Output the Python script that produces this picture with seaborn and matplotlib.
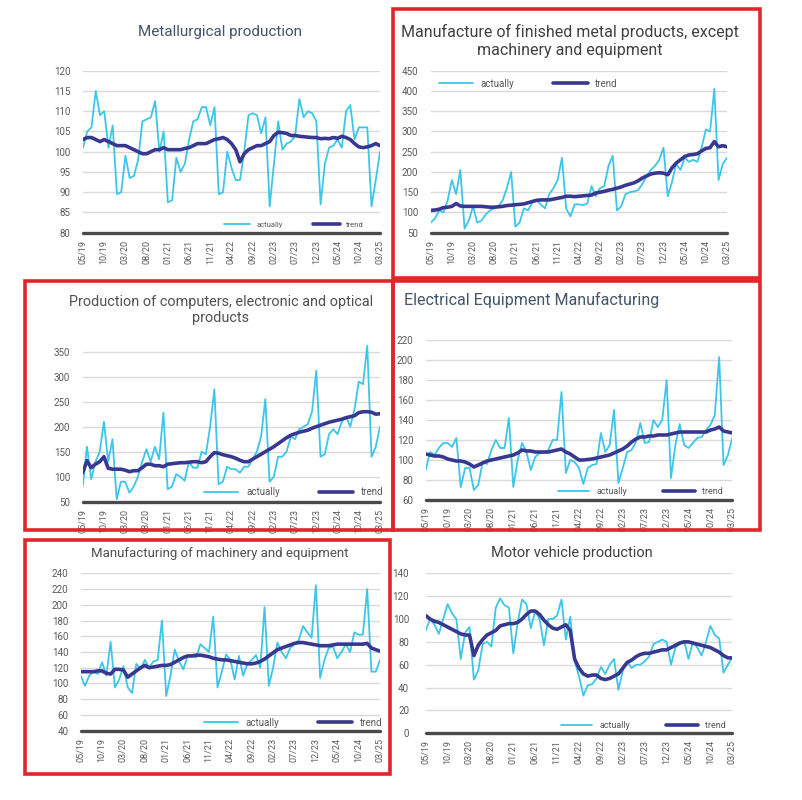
import numpy as np
import matplotlib
matplotlib.use('Agg')
import matplotlib.pyplot as plt
import seaborn as sns
from matplotlib.patches import Rectangle

sns.set_style('white')
plt.rcParams['font.family'] = ['Roboto', 'DejaVu Sans']

# months 05/19 .. 03/25 (71 points), ticks every 5 months
months = np.arange(71)
tick_labels = ['05/19', '10/19', '03/20', '08/20', '01/21', '06/21', '11/21', '04/22',
               '09/22', '02/23', '07/23', '12/23', '05/24', '10/24', '03/25']

# Metallurgical production
metal_act = [101, 105, 106, 115, 109, 110, 101, 106.5, 89.5, 90,
             99, 93.5, 94, 98, 107.5, 108, 108.5, 112.5, 100, 105,
             87.5, 88, 98.5, 95, 97, 103, 107.5, 108, 111, 111,
             106.5, 111, 89.5, 90, 100, 96, 93, 93, 100, 109,
             109.5, 109, 104.5, 108.5, 86.5, 97, 107.5, 100.5, 102, 102.5,
             104, 113, 108.5, 110, 109.5, 107.5, 87, 97, 101, 101.5,
             103, 101, 110, 111.5, 103, 106, 106, 106, 86.5, 93,
             100]
metal_trend = [103, 103.5, 103.5, 103, 102.5, 103, 102.5, 102, 101.5, 101.5,
               101.5, 101, 100.5, 100, 99.5, 99.5, 100, 100.5, 100.5, 101,
               100.5, 100.5, 100.5, 100.5, 100.8, 101, 101.5, 102, 102, 102,
               102.5, 103, 103.2, 103.5, 103, 102, 100.5, 97.5, 99.5, 100.5,
               101, 101.5, 101.5, 102, 102.5, 104, 104.8, 104.7, 104.5, 104,
               104, 103.8, 103.7, 103.6, 103.5, 103.5, 103.2, 103.3, 103.2, 103.5,
               103.3, 103.8, 103.5, 103, 102, 101.2, 101, 101.2, 101.5, 102,
               101.5]

# Finished metal products
fmp_act = [75, 85, 105, 100, 130, 180, 145, 205, 60, 80,
           115, 75, 80, 95, 105, 110, 115, 130, 160, 200,
           65, 75, 110, 105, 125, 130, 120, 110, 145, 160,
           180, 235, 110, 90, 120, 120, 118, 122, 165, 140,
           160, 165, 215, 240, 105, 115, 145, 150, 152, 155,
           170, 190, 205, 215, 230, 260, 140, 175, 220, 205,
           235, 225, 230, 225, 260, 305, 300, 405, 180, 220,
           235]
fmp_trend = [105, 106, 108, 112, 113, 115, 122, 116, 115, 115,
             115, 115, 115, 114, 113, 113, 114, 115, 117, 118,
             119, 120, 121, 124, 127, 130, 131, 131, 131, 133,
             135, 137, 140, 140, 139, 140, 141, 142, 143, 148,
             150, 152, 155, 157, 160, 163, 167, 170, 173, 178,
             185, 190, 195, 197, 198, 197, 193, 210, 222, 230,
             238, 242, 243, 245, 252, 258, 260, 275, 262, 265,
             262]

# Computers, electronic and optical products
comp_act = [80, 160, 95, 130, 150, 210, 130, 175, 55, 90,
            90, 68, 80, 100, 130, 155, 130, 160, 135, 228,
            75, 80, 105, 100, 92, 130, 118, 118, 150, 145,
            200, 275, 85, 90, 120, 115, 115, 108, 120, 120,
            135, 150, 180, 255, 90, 100, 140, 140, 150, 180,
            175, 195, 200, 205, 230, 312, 140, 145, 185, 195,
            185, 210, 220, 200, 235, 290, 285, 362, 140, 160,
            200]
comp_trend = [108, 132, 118, 125, 130, 140, 117, 115, 115, 115,
              113, 110, 112, 112, 118, 125, 125, 122, 122, 120,
              125, 126, 127, 128, 128, 129, 130, 130, 128, 130,
              140, 148, 147, 144, 142, 140, 137, 133, 130, 130,
              135, 140, 145, 150, 155, 160, 166, 172, 178, 183,
              186, 189, 191, 193, 197, 200, 203, 206, 209, 211,
              213, 215, 218, 220, 222, 228, 230, 230, 229, 225,
              226]

# Electrical equipment
elec_act = [90, 108, 105, 112, 117, 117, 113, 122, 73, 92,
            92, 70, 75, 98, 96, 110, 120, 112, 112, 142,
            73, 100, 117, 108, 90, 103, 107, 107, 110, 120,
            120, 168, 87, 100, 98, 92, 76, 92, 95, 96,
            127, 108, 115, 150, 77, 92, 108, 110, 118, 137,
            117, 118, 140, 133, 140, 180, 82, 115, 136, 115,
            112, 117, 122, 123, 130, 135, 145, 203, 95, 105,
            122]
elec_trend = [106, 105, 104, 104, 103, 101, 100, 99, 99, 98,
              96, 93, 95, 97, 99, 100, 101, 102, 103, 104,
              105, 107, 110, 109, 109, 108, 108, 108, 108, 109,
              110, 111, 108, 106, 103, 100, 100, 100.5, 101, 102,
              103, 104, 105, 107, 109, 111, 114, 118, 121, 123,
              123, 124, 124, 125, 125, 125, 126, 127, 128, 128,
              128, 128, 128, 128, 128, 130, 131, 133, 129, 128,
              127]

# Machinery and equipment
mach_act = [110, 97, 110, 115, 112, 127, 110, 153, 95, 105,
            122, 95, 88, 125, 118, 130, 120, 128, 130, 180,
            84, 110, 143, 128, 118, 135, 135, 133, 150, 145,
            140, 185, 95, 115, 137, 130, 105, 135, 110, 125,
            130, 136, 120, 197, 97, 120, 152, 140, 132, 145,
            150, 155, 173, 165, 158, 225, 107, 130, 145, 147,
            132, 140, 150, 140, 165, 162, 162, 220, 115, 115,
            130]
mach_trend = [115, 115, 115, 115, 116, 116, 113, 112, 118, 118,
              117, 108, 112, 116, 120, 123, 120, 121, 122, 123,
              123, 124, 127, 130, 133, 135, 135, 136, 136, 135,
              134, 132, 131, 130, 130, 129, 128, 127, 126, 125,
              125, 126, 128, 131, 135, 139, 143, 145, 147, 149,
              151, 152, 152, 151, 150, 149, 148, 148, 148, 149,
              150, 150, 150, 150, 150, 150, 150, 151, 145, 143,
              141]

# Motor vehicles
auto_act = [90, 100, 95, 87, 100, 113, 105, 100, 65, 88,
            93, 47, 55, 78, 80, 76, 110, 118, 112, 110,
            70, 97, 117, 113, 92, 107, 100, 77, 100, 100,
            103, 117, 82, 102, 63, 50, 33, 42, 43, 48,
            58, 52, 60, 65, 38, 55, 63, 57, 60, 60,
            63, 67, 78, 80, 82, 80, 60, 75, 78, 81,
            65, 80, 75, 68, 80, 94, 86, 83, 53, 60,
            67]
auto_trend = [103, 100, 98, 97, 95, 93, 91, 89, 87, 86,
              86, 68, 77, 82, 86, 88, 90, 94, 95, 96,
              96, 97, 100, 104, 107, 107, 104, 99, 95, 92,
              91, 93, 95, 90, 65, 57, 52, 50, 51, 51,
              48, 47, 48, 50, 52, 57, 62, 64, 67, 69,
              70, 70, 71, 72, 73, 73, 75, 77, 79, 80,
              80, 79, 78, 77, 76, 75, 73, 71, 68, 66,
              66]

c_act = '#3cc6ea'
c_trend = '#383890'
c_tick = '#595959'

W, H = 803, 800
fig = plt.figure(figsize=(W / 100, H / 100), dpi=100)


def px_axes(x0, x1, y_top, y_bot):
    return fig.add_axes([x0 / W, 1 - y_bot / H, (x1 - x0) / W, (y_bot - y_top) / H])


def draw(ax, act, trend, ylim, yticks, leg_xy, leg_fs, ypad):
    sns.lineplot(x=months, y=act, ax=ax, color=c_act, lw=1.3, label='actually')
    sns.lineplot(x=months, y=trend, ax=ax, color=c_trend, lw=2.6, label='trend')
    ax.set_xlim(0, 70)
    ax.set_ylim(*ylim)
    ax.set_yticks(yticks)
    ax.set_xticks(months[::5])
    ax.set_xticklabels(tick_labels, rotation=90, fontsize=6.5, color=c_tick)
    ax.tick_params(axis='y', labelsize=7, colors=c_tick, length=0, pad=ypad)
    ax.tick_params(axis='x', length=0, pad=5)
    ax.grid(axis='y', color='#d9d9d9', lw=1)
    ax.set_xlabel('')
    ax.set_ylabel('')
    for s in ax.spines.values():
        s.set_visible(False)
    # thick dark base line
    ax.axhline(ylim[0], color='#4a4a4a', lw=2.4, zorder=4, clip_on=False)
    ax.legend(loc='center', bbox_to_anchor=leg_xy, ncol=2, frameon=False,
              fontsize=leg_fs, handlelength=3.5, columnspacing=4, labelcolor=c_tick)


ax1 = px_axes(83, 380, 70.7, 232.7)
draw(ax1, metal_act, metal_trend, (80, 120), range(80, 121, 5), (0.71, 0.05), 5.5, 9)

ax2 = px_axes(430.7, 727, 70.7, 232.7)
draw(ax2, fmp_act, fmp_trend, (50, 450), range(50, 451, 50), (0.33, 0.92), 7, 9)

ax3 = px_axes(82.7, 380, 341.7, 501.7)
draw(ax3, comp_act, comp_trend, (50, 370), range(50, 351, 50), (0.71, 0.06), 7, 9)

ax4 = px_axes(425.7, 732.3, 340, 500)
draw(ax4, elec_act, elec_trend, (60, 220), range(60, 221, 20), (0.70, 0.05), 6.5, 9)

ax5 = px_axes(80.7, 380, 573.3, 730.7)
draw(ax5, mach_act, mach_trend, (40, 240), range(40, 241, 20), (0.71, 0.05), 7, 9)

ax6 = px_axes(425.7, 732.3, 573.3, 733.3)
draw(ax6, auto_act, auto_trend, (0, 140), range(0, 141, 20), (0.71, 0.05), 6.5, 12)


def title(x, y, s, fs, color):
    fig.text(x / W, 1 - y / H, s, ha='center', va='center', fontsize=fs,
             color=color, multialignment='center')


title(220, 32, 'Metallurgical production', 11, '#44546a')
title(570, 41, 'Manufacture of finished metal products, except\nmachinery and equipment', 11.5, '#404040')
title(221, 310, 'Production of computers, electronic and optical\nproducts', 10.4, '#505050')
title(532, 300, 'Electrical Equipment Manufacturing', 11.5, '#44546a')
title(220, 553, 'Manufacturing of machinery and equipment', 9.5, '#505050')
title(572, 553, 'Motor vehicle production', 10.5, '#404040')

# red highlight frames
for (x0, y0, x1, y1) in [(393, 9, 760, 278), (25, 281, 393, 530),
                         (393, 281, 760, 530), (25, 540, 390, 774)]:
    fig.add_artist(Rectangle((x0 / W, 1 - y1 / H), (x1 - x0) / W, (y1 - y0) / H,
                             transform=fig.transFigure, fill=False,
                             ec='#e0262b', lw=2.6))

fig.savefig('out.png', dpi=100)
